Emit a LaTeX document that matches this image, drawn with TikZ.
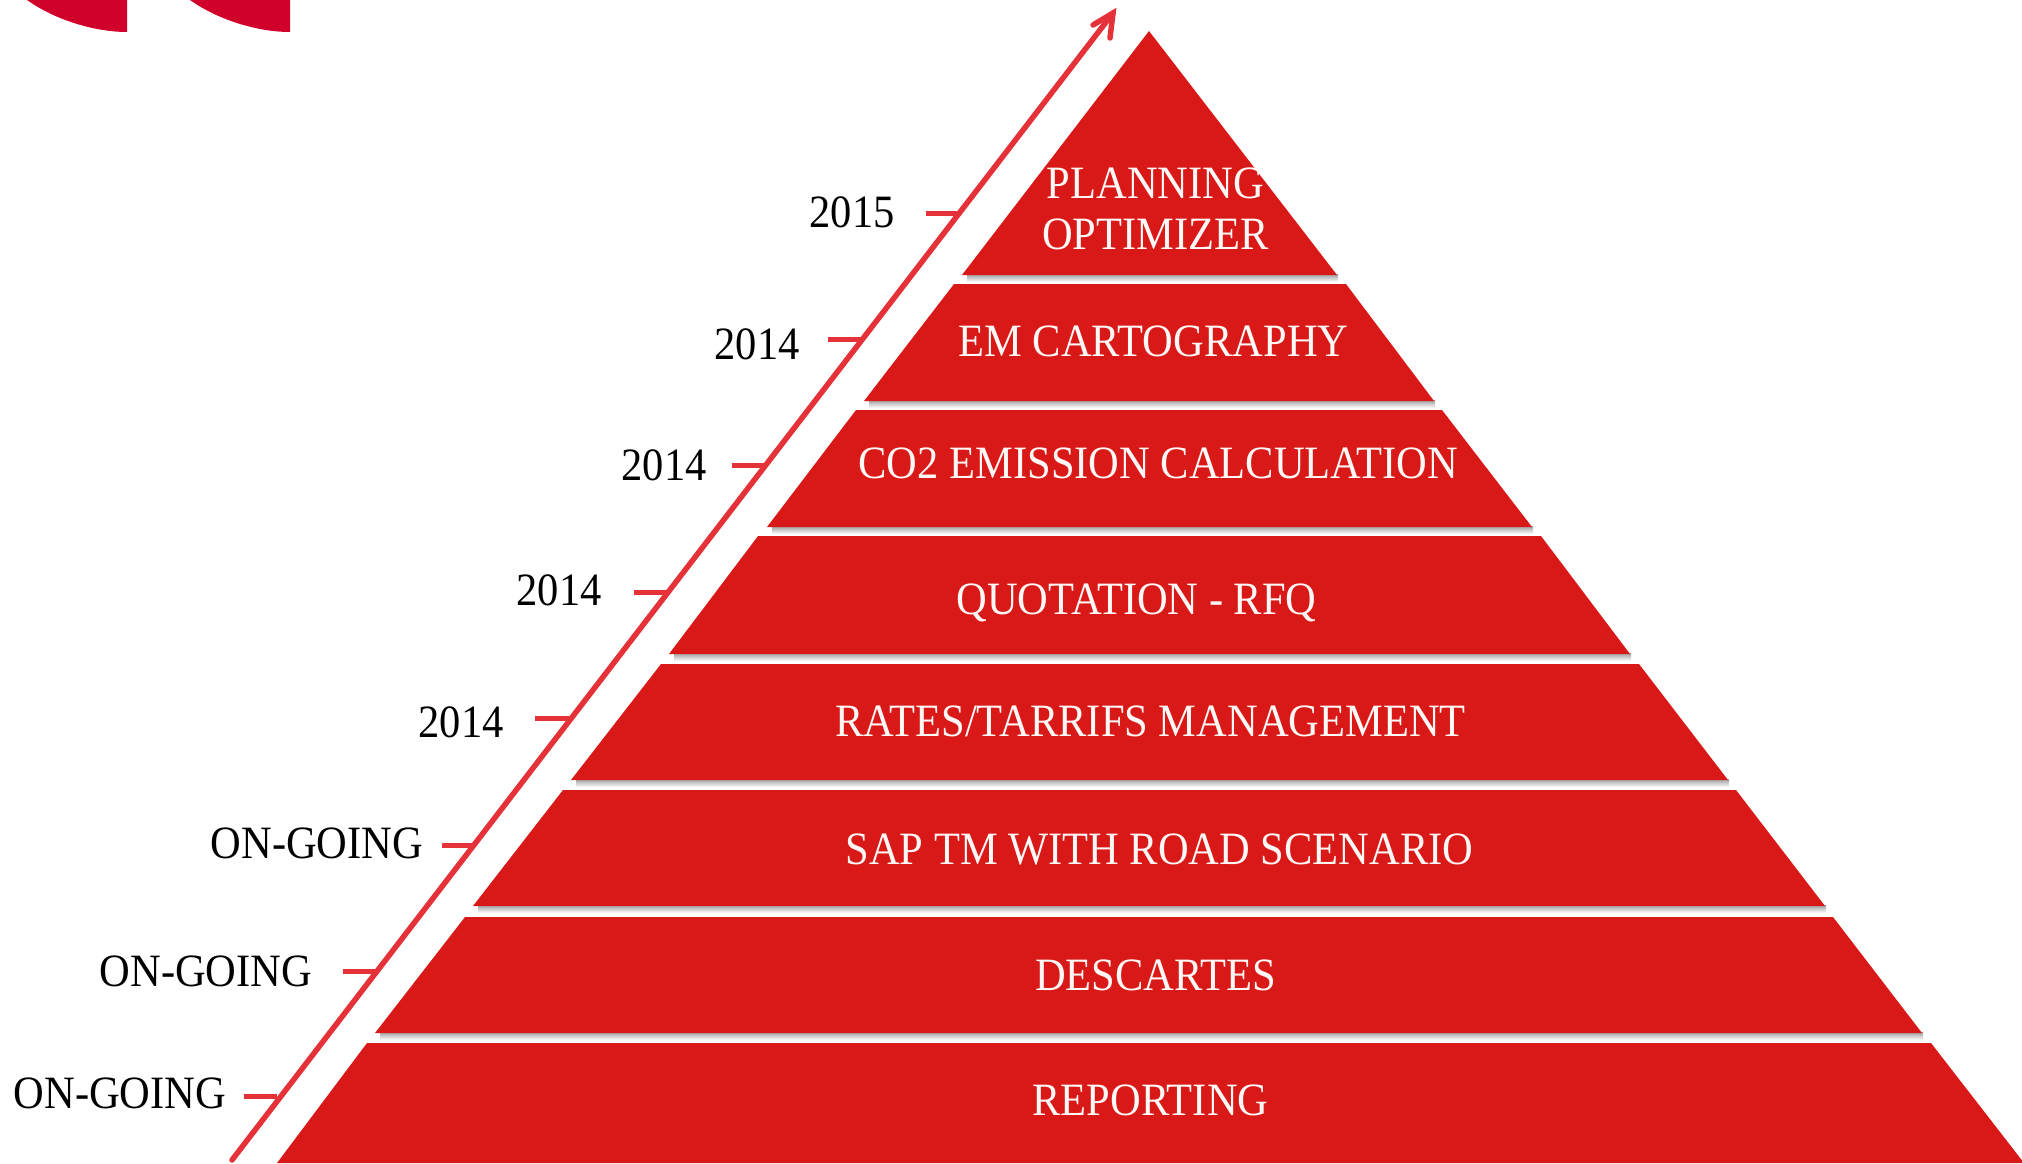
\documentclass[tikz,border=0pt]{standalone}
\usepackage{fontspec}
\setmainfont{Liberation Serif}
\definecolor{layerred}{HTML}{D91917}
\definecolor{linered}{HTML}{E53238}
\definecolor{logored}{HTML}{D0022B}
\definecolor{labelwhite}{HTML}{FFF8F6}
\newcommand{\stretchtxt}[1]{\scalebox{1}[1.09]{#1}}
\newcommand{\layershape}[6]{%
  % top y, top left, top right, bottom y, bottom left, bottom right
  \fill[layerred] (#2,#1) -- (#3,#1) -- (#6,#4) -- (#5,#4) -- cycle;
}
\newcommand{\layershadow}[3]{%
  \shade[top color=black!38, bottom color=white] (#2+5,#1-1) rectangle (#3+1,#1+7);
}
\tikzset{
  pyrlabel/.style={anchor=base, yshift=-16pt, xshift=1.5pt, text=labelwhite, inner sep=0pt,
    font=\fontsize{42.5pt}{50pt}\selectfont},
  yearlabel/.style={anchor=base, yshift=-16pt, xshift=1pt, text=black, inner sep=0pt,
    font=\fontsize{42.5pt}{50pt}\selectfont},
  tickline/.style={draw=linered, line width=5pt},
  axisline/.style={draw=linered, line width=5.5pt, line cap=round, line join=miter}
}
\begin{document}
\begin{tikzpicture}[x=1pt,y=-1pt]
\useasboundingbox (0,0) rectangle (2022,1163);
\clip (0,0) rectangle (2022,1163);
% logo fragments
\fill[logored] (27,0) .. controls (55,20) and (95,32) .. (127,32) -- (127,0) -- cycle;
\fill[logored] (190,0) .. controls (218,20) and (258,32) .. (290,32) -- (290,0) -- cycle;
% shadows
\layershadow{275}{962}{1337}
\layershadow{401}{864}{1434}
\layershadow{527}{767}{1532}
\layershadow{654}{669}{1630}
\layershadow{780}{571}{1728}
\layershadow{906}{473}{1825}
\layershadow{1033}{375}{1922}
% pyramid layers
\fill[layerred] (1149,31) -- (1337,275) -- (962,275) -- cycle;
\layershape{284}{954}{1346}{401}{864}{1434}
\layershape{410}{856}{1442}{527}{767}{1532}
\layershape{536}{758}{1541}{654}{669}{1630}
\layershape{664}{661}{1639}{780}{571}{1728}
\layershape{790}{563}{1736}{906}{473}{1825}
\layershape{917}{465}{1833}{1033}{375}{1922}
\layershape{1043}{367}{1931}{1163}{277}{2024}
% axis
\coordinate (axisstart) at (232,1160);
\coordinate (axisend) at (1113,13);
\coordinate (barbleft) at (1093,25);
\coordinate (barbright) at (1110,38);
\draw[axisline] (axisstart) -- (axisend);
\draw[axisline] (barbleft) -- (axisend) -- (barbright);
% ticks
\foreach \n/\xa/\xb/\yy in {a/926/957/213,b/828/861/339,c/732/765/465,d/634/667/592,e/535/569/718,f/442/473/845,g/343/375/971,h/244/277/1096}{
  \coordinate (tick\n s) at (\xa,\yy);
  \coordinate (tick\n e) at (\xb,\yy);
  \draw[tickline] (tick\n s) -- (tick\n e);
}
% year labels
\node[yearlabel] (y2015) at (851,211) {\stretchtxt{2015}};
\node[yearlabel] (y2014a) at (756,343) {\stretchtxt{2014}};
\node[yearlabel] (y2014b) at (663,464) {\stretchtxt{2014}};
\node[yearlabel] (y2014c) at (558,589) {\stretchtxt{2014}};
\node[yearlabel] (y2014d) at (460,721) {\stretchtxt{2014}};
\node[yearlabel] (ongoa) at (316,842) {\stretchtxt{ON-GOING}};
\node[yearlabel] (ongob) at (205,970) {\stretchtxt{ON-GOING}};
\node[yearlabel] (ongoc) at (119,1092) {\stretchtxt{ON-GOING}};
% layer labels
\node[pyrlabel] (planning) at (1154,182) {\stretchtxt{PLANNING}};
\node[pyrlabel] (optimizer) at (1154,233) {\stretchtxt{OPTIMIZER}};
\node[pyrlabel] (em) at (1152,340) {\stretchtxt{EM CARTOGRAPHY}};
\node[pyrlabel] (co2) at (1157,462) {\stretchtxt{CO2 EMISSION CALCULATION}};
\node[pyrlabel] (quot) at (1135,598) {\stretchtxt{QUOTATION - RFQ}};
\node[pyrlabel] (rates) at (1149,720) {\stretchtxt{RATES/TARRIFS MANAGEMENT}};
\node[pyrlabel] (sap) at (1158,848) {\stretchtxt{SAP TM WITH ROAD SCENARIO}};
\node[pyrlabel] (desc) at (1154,974) {\stretchtxt{DESCARTES}};
\node[pyrlabel] (rep) at (1149,1099) {\stretchtxt{REPORTING}};
\end{tikzpicture}
\end{document}
